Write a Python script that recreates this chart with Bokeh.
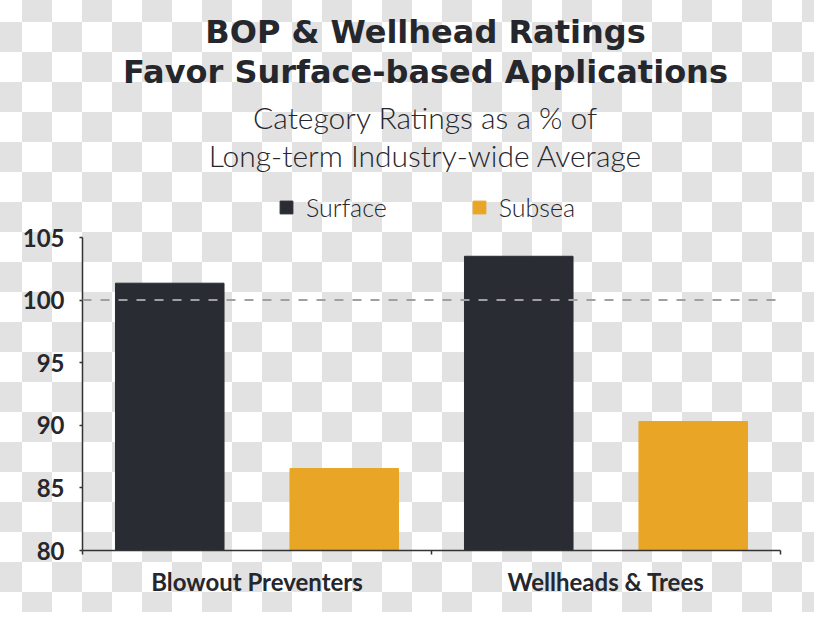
from bokeh.plotting import figure
from bokeh.models import (Range1d, FixedTicker, Span, Label, Legend, LegendItem,
                          ColumnDataSource)
from bokeh.embed import file_html
from bokeh.resources import INLINE

# ---------------- data ----------------
categories = ["Blowout Preventers", "Wellheads & Trees"]
surface = [101.35, 103.5]
subsea = [86.55, 90.3]
y_ticks = [80, 85, 90, 95, 100, 105]
baseline_avg = 100

title_lines = ["BOP & Wellhead Ratings", "Favor Surface-based Applications"]
subtitle_lines = ["Category Ratings as a % of", "Long-term Industry-wide Average"]

DARK = "#2a2c33"
GOLD = "#e9a626"
TEXT = "#26272c"

# ---------------- layout constants (page px) ----------------
W, H = 814, 612
OFF = 8
F_LEFT, F_RIGHT, F_TOP, F_BOTTOM = 90, 788, 245, 558   # axis box in the page
Y0, Y1 = 80, 105
X0, X1 = 0, len(categories)
PX_PER_Y = (F_BOTTOM - F_TOP) / (Y1 - Y0)
Y_TOP = Y0 + (F_BOTTOM - OFF) / PX_PER_Y      # frame extends to top of figure

def dx(px):
    return X0 + (px - F_LEFT) / (F_RIGHT - F_LEFT) * (X1 - X0)

def dy(py):
    return Y0 + (F_BOTTOM - py) / PX_PER_Y

p = figure(width=W, height=H, output_backend="svg", toolbar_location=None,
           x_range=Range1d(X0, X1), y_range=Range1d(Y0, Y_TOP),
           min_border_left=F_LEFT - OFF, min_border_right=W + OFF - F_RIGHT,
           min_border_top=0, min_border_bottom=H + OFF - F_BOTTOM)
p.background_fill_alpha = 0
p.border_fill_alpha = 0
p.outline_line_color = None
p.grid.visible = False
p.styles = {
    "background-image": "repeating-conic-gradient(#e2e2e2 0% 25%, #ffffff 0% 50%)",
    "background-size": "60px 60px",
    "background-position": "-8px -8px",
}

idx = list(range(len(categories)))
src = ColumnDataSource(dict(
    xs=[i + 0.25 for i in idx],
    xb=[i + 0.75 for i in idx],
    surface=surface, subsea=subsea))

bar_w = 0.311
r1 = p.vbar(x="xs", top="surface", bottom=Y0, width=bar_w, source=src,
            fill_color=DARK, line_color=DARK)
r2 = p.vbar(x="xb", top="subsea", bottom=Y0, width=bar_w, source=src,
            fill_color=GOLD, line_color=GOLD)

p.add_layout(Span(location=baseline_avg, dimension="width", line_color="#a0a0a0",
                  line_width=2, line_dash="9 9"))

# y axis
ya = p.yaxis[0]
ya.bounds = (Y0, Y1)
ya.ticker = FixedTicker(ticks=y_ticks)
ya.axis_line_color = "#333333"
ya.axis_line_width = 1.5
ya.major_tick_line_color = "#333333"
ya.major_tick_line_width = 1.5
ya.major_tick_out = 3
ya.major_tick_in = 0
ya.minor_tick_line_color = None
ya.major_label_standoff = 15
ya.major_label_text_font = "Lato"
ya.major_label_text_font_style = "bold"
ya.major_label_text_font_size = "24px"
ya.major_label_text_color = TEXT

# x axis
xa = p.xaxis[0]
centers = [i + 0.5 for i in idx]
xa.ticker = FixedTicker(ticks=centers, minor_ticks=list(range(len(categories) + 1)))
xa.major_label_overrides = {c: lab for c, lab in zip(centers, categories)}
xa.axis_line_color = "#333333"
xa.axis_line_width = 1.5
xa.major_tick_line_color = None
xa.major_tick_out = 0
xa.major_tick_in = 0
xa.minor_tick_line_color = "#333333"
xa.minor_tick_line_width = 1.5
xa.minor_tick_out = 4
xa.minor_tick_in = 0
xa.major_label_standoff = 12
xa.major_label_text_font = "Lato"
xa.major_label_text_font_style = "bold"
xa.major_label_text_font_size = "24px"
xa.major_label_text_color = TEXT

# titles (y = visual middle of the line in page px)
cx = dx(433)
for text, mid in zip(title_lines, [39.5, 79]):
    p.add_layout(Label(x=cx, y=dy(mid), text=text, text_align="center",
                       text_baseline="middle", text_font="DejaVu Sans",
                       text_font_style="bold", text_font_size="32px",
                       text_color=TEXT))
for text, mid in zip(subtitle_lines, [124.5, 162]):
    p.add_layout(Label(x=cx, y=dy(mid), text=text, text_align="center",
                       text_baseline="middle", text_font="Lato Light, Lato",
                       text_font_size="30px", text_color=TEXT))

legend = Legend(items=[LegendItem(label="Surface", renderers=[r1]),
                       LegendItem(label="Subsea", renderers=[r2])],
                orientation="horizontal",
                location=(286 - F_LEFT, F_BOTTOM - 229.5),
                glyph_width=16, glyph_height=16, label_standoff=12, spacing=84,
                padding=0, margin=0, border_line_color=None,
                background_fill_alpha=0, label_text_font="Lato Light, Lato",
                label_text_font_size="25px", label_text_color=TEXT)
p.add_layout(legend)

open("out.html", "w").write(file_html(p, INLINE))
